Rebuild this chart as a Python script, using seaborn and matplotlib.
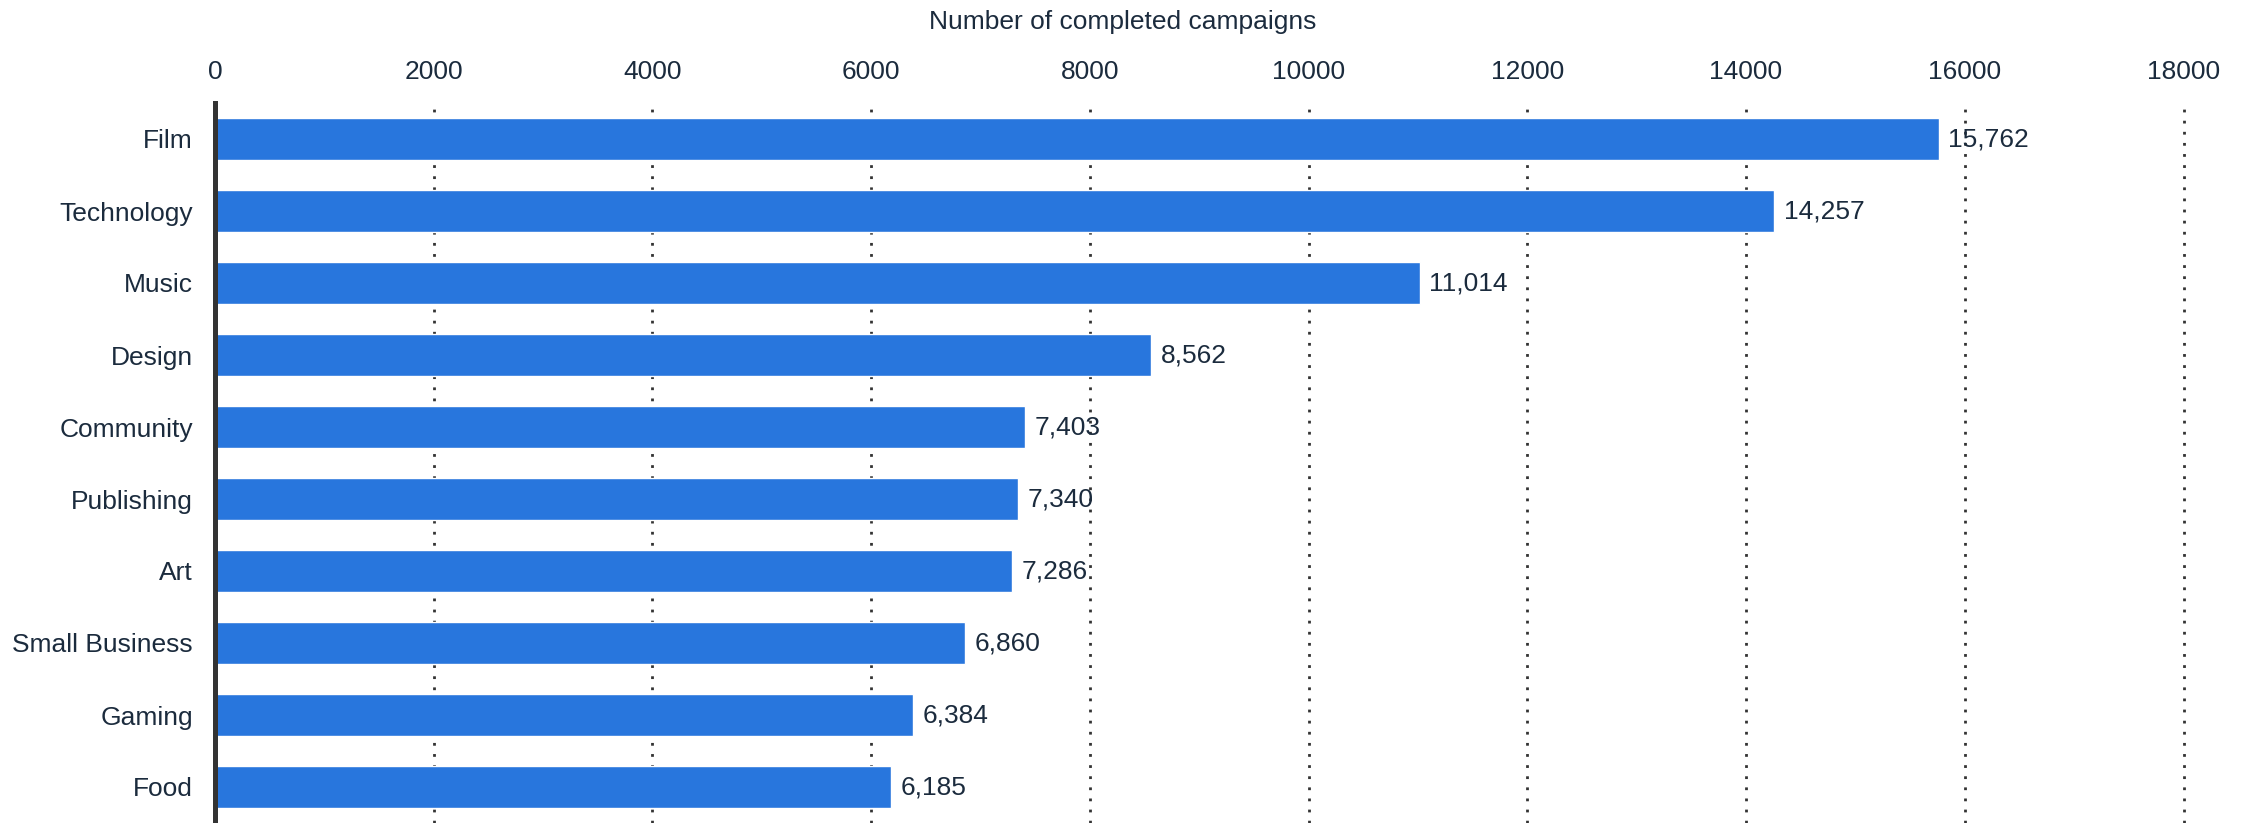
import matplotlib
matplotlib.use("Agg")
import matplotlib.pyplot as plt
from matplotlib.ticker import MultipleLocator, FuncFormatter
import seaborn as sns
import pandas as pd

categories = ["Film", "Technology", "Music", "Design", "Community",
              "Publishing", "Art", "Small Business", "Gaming", "Food"]
completed = [15762, 14257, 11014, 8562, 7403, 7340, 7286, 6860, 6384, 6185]
x_title = "Number of completed campaigns"

sns.set_theme(style="white")
plt.rcParams["font.family"] = ["Liberation Sans", "DejaVu Sans"]

text_color = "#1b2b3d"
bar_color = "#2876DD"
fs = 19

df = pd.DataFrame({"category": categories, "completed": completed})

fig = plt.figure(figsize=(22.45, 8.23), dpi=100)
ax = fig.add_axes([215/2245, 0.0, (2183.5-215)/2245, 1 - 103/823])

sns.barplot(data=df, x="completed", y="category", orient="h", color=bar_color,
            saturation=1, width=0.58, ax=ax, zorder=3)

ax.set_xlim(0, 18000)
ax.set_ylim(9.5, -0.5)
ax.xaxis.set_major_locator(MultipleLocator(2000))
ax.xaxis.set_major_formatter(FuncFormatter(lambda v, p: f"{int(v)}"))
ax.xaxis.tick_top()
ax.tick_params(axis="x", length=0, pad=14, labelsize=fs, labelcolor=text_color)
ax.tick_params(axis="y", length=0, pad=16, labelsize=fs, labelcolor=text_color)
ax.set_xlabel("")
ax.set_ylabel("")

for s in ["top", "right", "bottom"]:
    ax.spines[s].set_visible(False)
ax.spines["left"].set_linewidth(3.6)
ax.spines["left"].set_color("#333333")
ax.spines["left"].set_zorder(5)

ax.grid(axis="x", linestyle=(0, (1, 3)), linewidth=2, color="#333333", zorder=0)
ax.grid(axis="y", visible=False)
ax.set_axisbelow(True)
for gl in ax.get_xgridlines():
    gl.set_clip_on(False)

for cont in ax.containers:
    ax.bar_label(cont, labels=[f"{v:,}" for v in completed], padding=7,
                 fontsize=fs, color=text_color)

fig.text(0.5, 1 - 21.5/823, x_title, ha="center", va="center",
         fontsize=fs, color=text_color)

fig.savefig("out.png", dpi=100)
